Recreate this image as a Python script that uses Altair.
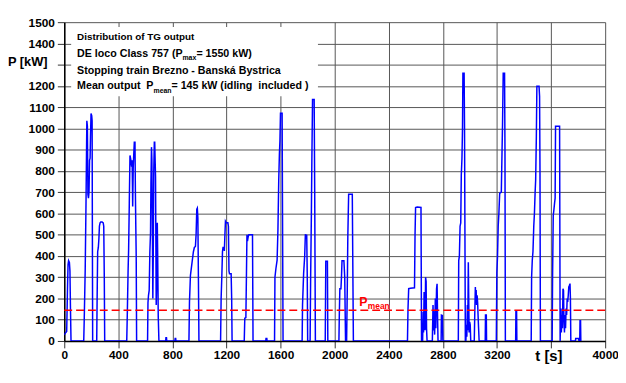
import altair as alt
import pandas as pd

# ---- data: time [s] and TG output [kW] ----
t_s = [0, 5, 18, 24, 28, 32, 38, 42, 46, 50,
       144, 148, 155, 161, 167, 171, 175, 179, 183, 187, 191, 194, 198, 203, 206, 208, 210,
       240, 243, 247, 252, 256, 260, 265, 270, 280, 288, 292, 296, 299,
       462, 466, 472, 476, 481, 486, 490, 494, 498, 502, 506, 510, 514, 518, 523, 526, 529, 532, 535,
       616, 619, 623, 628, 633, 638, 641, 645, 648, 651, 655, 658, 662, 666, 669, 672, 675, 678, 680, 684, 688, 691, 695, 700,
       750, 752, 756, 758, 818, 820, 824, 826,
       922, 926, 933, 945, 955, 962, 970, 975, 980, 984, 988, 992, 996,
       1156, 1160, 1165, 1170, 1174, 1180, 1184, 1188, 1192, 1198, 1210, 1214, 1218, 1222, 1234, 1238, 1241,
       1331, 1335, 1343, 1347, 1351, 1355, 1360, 1365, 1392, 1396,
       1490, 1492, 1498, 1500,
       1555, 1558, 1565, 1574, 1580, 1586, 1591, 1595, 1599, 1611, 1614, 1618,
       1759, 1762, 1770, 1778, 1783, 1788, 1793, 1797, 1800,
       1818, 1822, 1827, 1831, 1836, 1848, 1852, 1857,
       1930, 1934, 1946, 1949,
       2031, 2034, 2038, 2046, 2050, 2054, 2068, 2074, 2080,
       2088, 2093, 2097, 2103, 2130, 2138,
       2538, 2542, 2547, 2560, 2590, 2594, 2598, 2610, 2638, 2642,
       2650, 2654, 2657, 2661, 2665, 2668, 2672, 2676, 2679, 2683,
       2722, 2727, 2731, 2735, 2739, 2744, 2748, 2753, 2757, 2761, 2764,
       2787, 2789, 2796, 2800,
       2914, 2917, 2922, 2927, 2932, 2936, 2941, 2945, 2948, 2957, 2960, 2963, 2966,
       2970, 2974, 2977, 2981, 2984, 2988, 2991, 2994, 2998, 3002, 3006,
       3032, 3036, 3040, 3043, 3046, 3049, 3053, 3057, 3060, 3064, 3068,
       3113, 3115, 3121, 3123,
       3195, 3199, 3204, 3209, 3214, 3220, 3232, 3237, 3241, 3246, 3256, 3259, 3262,
       3338, 3340, 3345, 3347,
       3453, 3456, 3461, 3466, 3472, 3477, 3482, 3486, 3491, 3495, 3511, 3515, 3518, 3521,
       3608, 3611, 3616, 3621, 3626, 3630, 3633, 3663, 3667,
       3670, 3673, 3676, 3680, 3684, 3688, 3692, 3695, 3699, 3703, 3707, 3711, 3715, 3719, 3723, 3727, 3731, 3736, 3740, 3743, 3746,
       3780, 3782, 3804, 3806, 3812, 3814, 3818, 3820]

p_kw = [28, 35, 45, 250, 360, 378, 370, 330, 150, 0,
        0, 110, 340, 660, 1036, 1010, 690, 672, 700, 850, 860, 960, 1070, 1060, 1036, 500, 0,
        0, 200, 420, 440, 480, 540, 556, 560, 560, 556, 540, 300, 0,
        0, 120, 330, 432, 650, 873, 860, 845, 820, 850, 633, 816, 880, 935, 935, 700, 540, 400, 0,
        0, 180, 215, 238, 416, 510, 742, 912, 850, 600, 200, 400, 800, 935, 935, 850, 772, 400, 169, 300, 556, 400, 115, 0,
        0, 15, 15, 0, 0, 12, 12, 0,
        0, 184, 308, 370, 420, 440, 445, 502, 620, 625, 580, 300, 0,
        0, 200, 300, 420, 440, 440, 424, 500, 563, 556, 556, 540, 330, 316, 316, 200, 0,
        0, 107, 110, 300, 500, 470, 490, 500, 500, 0,
        0, 12, 12, 0,
        0, 300, 340, 380, 520, 754, 880, 943, 1071, 1071, 600, 0,
        0, 169, 316, 400, 502, 494, 500, 300, 0,
        0, 300, 571, 850, 1136, 1136, 700, 0,
        0, 375, 375, 0,
        0, 120, 246, 246, 300, 378, 378, 300, 0,
        0, 250, 494, 690, 690, 0,
        0, 150, 246, 248, 250, 500, 628, 630, 628, 0,
        0, 138, 40, 231, 200, 50, 300, 280, 60, 0,
        0, 169, 50, 140, 30, 200, 60, 246, 269, 100, 0,
        0, 122, 120, 0,
        0, 378, 400, 540, 556, 780, 860, 997, 1260, 1260, 1000, 500, 0,
        0, 76, 20, 169, 50, 370, 200, 40, 90, 76, 0,
        0, 138, 254, 200, 240, 169, 215, 180, 122, 60, 0,
        0, 122, 122, 0,
        0, 320, 400, 540, 600, 695, 700, 880, 1020, 1260, 1260, 900, 0,
        0, 138, 138, 0,
        0, 300, 380, 420, 540, 602, 700, 757, 958, 1198, 1198, 1150, 800, 0,
        0, 300, 590, 618, 650, 672, 1010, 1010, 0,
        107, 153, 40, 122, 60, 246, 238, 100, 40, 122, 60, 153, 122, 200, 184, 215, 254, 262, 270, 200, 0,
        0, 12, 12, 0, 0, 95, 95, 0]

p_mean = 145
y_ticks = list(range(0, 1600, 100))
x_ticks = list(range(0, 4400, 400))

# annotation texts (positions in data units)
box_texts = ["Distribution of TG output", "DE loco Class 757 (P", "max", "= 1550 kW)",
             "Stopping train Brezno - Banská Bystrica",
             "Mean output\u00a0 P", "mean", "\u00a0= 145 kW (idling\u00a0 included )"]
box_t = [95, 95, 874, 977, 95, 95, 660, 793]
box_p = [1414, 1336, 1324, 1336, 1255, 1187.5, 1168, 1187.5]
box_fs = [10, 10.8, 7, 10.8, 10.8, 10.8, 7, 10.8]

FONT = "Liberation Sans"

df = pd.DataFrame({"t": t_s, "P": p_kw})

xscale = alt.Scale(domain=[0, 4000], nice=False, zero=False)
yscale = alt.Scale(domain=[0, 1500], nice=False, zero=False)

x_axis = alt.Axis(values=x_ticks, format="d", labelExpr="datum.value == 3600 ? '' : datum.label",
                  title=None, grid=True, gridColor="#555555", gridWidth=1, tickSize=7,
                  tickColor="#333333", labelFont=FONT, labelFontWeight="bold", labelFontSize=12,
                  labelColor="black", labelPadding=2, labelFlush=False,
                  domainColor="black", domainWidth=1.5)
y_axis = alt.Axis(values=y_ticks, format="d", labelExpr="datum.value == 1300 ? '' : datum.label",
                  title=None, grid=True, gridColor="#555555", gridWidth=1, tickSize=7,
                  tickColor="#333333", labelFont=FONT, labelFontWeight="bold", labelFontSize=12,
                  labelColor="black", labelPadding=3, labelFlush=False,
                  domainColor="black", domainWidth=1.5)

X = alt.X("t:Q", scale=xscale, axis=x_axis)
Y = alt.Y("P:Q", scale=yscale, axis=y_axis)

box_df = pd.DataFrame({"t": [51], "t2": [1876], "P": [1152], "P2": [1477]})
white_box = alt.Chart(box_df).mark_rect(color="white").encode(
    x=X, x2="t2:Q", y=Y, y2="P2:Q")

line = alt.Chart(df).mark_line(color="#0000ff", strokeWidth=1.5, clip=True).encode(x=X, y=Y)

rule = alt.Chart(pd.DataFrame({"P": [p_mean]})).mark_rule(
    color="#ff0000", strokeWidth=1.6, strokeDash=[8, 4]).encode(y=Y)

txt_df = pd.DataFrame({"t": box_t, "P": box_p, "txt": box_texts, "fs": box_fs})
box_text = alt.Chart(txt_df).mark_text(
    align="left", baseline="alphabetic", font=FONT, fontWeight="bold", color="black").encode(
    x=X, y=Y, text="txt:N", size=alt.Size("fs:Q", scale=None, legend=None))

red_df = pd.DataFrame({"t": [2182, 2245], "P": [162.5, 148.5], "txt": ["P", "mean"], "fs": [12.5, 8.5]})
red_text = alt.Chart(red_df).mark_text(
    align="left", baseline="alphabetic", font=FONT, fontWeight="bold", color="#ff0000").encode(
    x=X, y=Y, text="txt:N", size=alt.Size("fs:Q", scale=None, legend=None))

ax_df = pd.DataFrame({"t": [-270, 3584], "P": [1296, -93], "txt": ["P [kW]", "t [s]"], "fs": [13, 15]})
ax_text = alt.Chart(ax_df).mark_text(
    align="center", baseline="alphabetic", font=FONT, fontWeight="bold", color="black").encode(
    x=X, y=Y, text="txt:N", size=alt.Size("fs:Q", scale=None, legend=None))

chart = alt.layer(white_box, line, rule, box_text, red_text, ax_text).properties(
    width=548, height=323,
    autosize=alt.AutoSizeParams(type="none"),
    padding={"left": 57, "top": 12, "right": 13, "bottom": 24},
    background="white",
).configure_view(stroke=None)

chart.save("out.html", embed_options={"renderer": "svg", "actions": False})
